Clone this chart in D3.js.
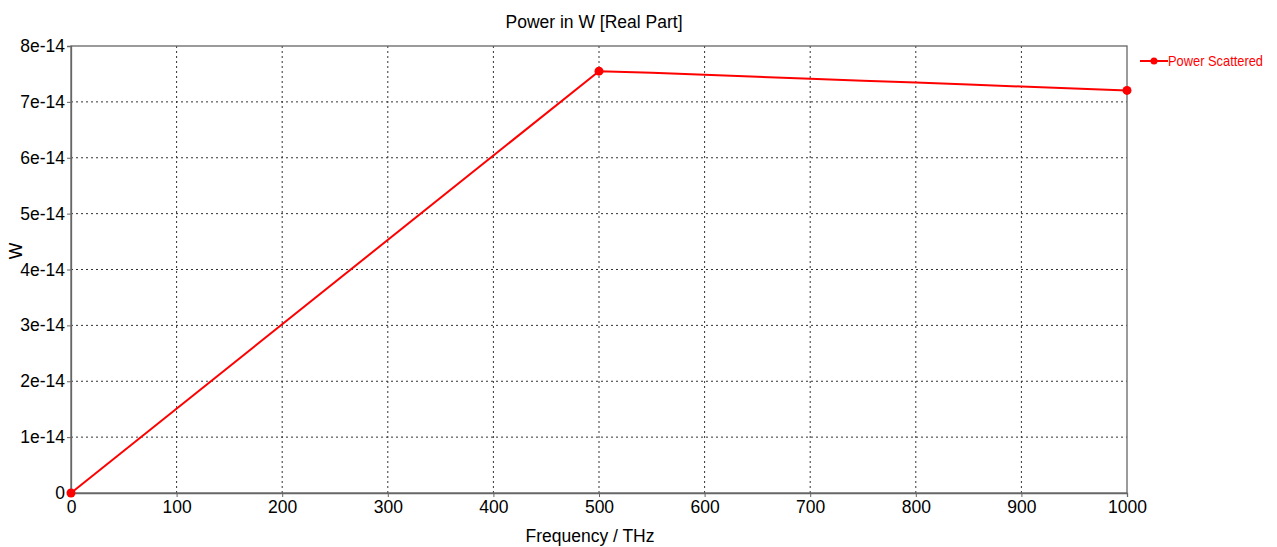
<!DOCTYPE html>
<html>
<head>
<meta charset="utf-8">
<script src="https://cdn.jsdelivr.net/npm/d3@7"></script>
<style>
  body { margin: 0; background: #fff; }
  text { font-family: "Liberation Sans", Arial, sans-serif; }
</style>
</head>
<body>
<div id="chart"></div>
<script>
(function () {

    // Veriler (frekans THz, güç W)
    const freq = [0, 500, 550, 600, 650, 700, 750, 800, 850, 900, 950, 1000];
    const power = [0, 7.55e-14, 7.52e-14, 7.485e-14, 7.45e-14, 7.415e-14, 7.38e-14,
        7.345e-14, 7.31e-14, 7.275e-14, 7.24e-14, 7.205e-14];
    const markerIdx = [0, 1, 11];
    const xTicks = [0, 100, 200, 300, 400, 500, 600, 700, 800, 900, 1000];
    const yTicks = [0, 1e-14, 2e-14, 3e-14, 4e-14, 5e-14, 6e-14, 7e-14, 8e-14];
    const yTickLabels = ["0", "1e-14", "2e-14", "3e-14", "4e-14", "5e-14", "6e-14", "7e-14", "8e-14"];
    const seriesName = "Power Scattered";

    const W = 1277, H = 547;
    const left = 71, top = 46, right = 1127, bottom = 493;
    const fs = "17.5px";

    const svg = d3.select('#chart')
        .append('svg')
        .attr('width', W)
        .attr('height', H);

    const x = d3.scaleLinear().domain([0, 1000]).range([left, right]);
    const y = d3.scaleLinear().domain([0, 8e-14]).range([bottom, top]);

    // Izgara çizgileri
    svg.append("g").selectAll("line")
        .data(xTicks.slice(1, -1))
        .join("line")
        .attr("x1", d => x(d)).attr("x2", d => x(d))
        .attr("y1", top).attr("y2", bottom)
        .attr("stroke", "#333")
        .attr("stroke-width", 1)
        .attr("stroke-dasharray", "2,3");

    svg.append("g").selectAll("line")
        .data(yTicks.slice(1, -1))
        .join("line")
        .attr("x1", left).attr("x2", right)
        .attr("y1", d => y(d)).attr("y2", d => y(d))
        .attr("stroke", "#333")
        .attr("stroke-width", 1)
        .attr("stroke-dasharray", "2,3");

    // Çerçeve
    svg.append("rect")
        .attr("x", left).attr("y", top)
        .attr("width", right - left).attr("height", bottom - top)
        .attr("fill", "none")
        .attr("stroke", "#666")
        .attr("stroke-width", 1.3);

    // Eksenler
    const xAxis = svg.append("g")
        .attr("transform", `translate(0,${bottom})`)
        .call(d3.axisBottom(x).tickValues(xTicks).tickSize(4).tickPadding(4).tickFormat(d3.format("d")));
    const yAxis = svg.append("g")
        .attr("transform", `translate(${left},0)`)
        .call(d3.axisLeft(y).tickValues(yTicks).tickSize(4).tickPadding(2)
            .tickFormat((d, i) => yTickLabels[i]));

    [xAxis, yAxis].forEach(a => {
        a.select(".domain").attr("stroke", "#666").attr("stroke-width", 1.3);
        a.selectAll(".tick line").attr("stroke", "#666");
        a.selectAll("text")
            .attr("fill", "#000")
            .style("font-size", fs)
            .style("font-family", "'Liberation Sans', Arial, sans-serif");
    });

    // Başlık ve eksen adları
    svg.append("text")
        .attr("x", 594).attr("y", 28)
        .attr("text-anchor", "middle")
        .style("font-size", fs)
        .text("Power in W [Real Part]");

    svg.append("text")
        .attr("x", 590).attr("y", 542)
        .attr("text-anchor", "middle")
        .style("font-size", fs)
        .text("Frequency / THz");

    svg.append("text")
        .attr("transform", "translate(22,251) rotate(-90)")
        .attr("text-anchor", "middle")
        .style("font-size", fs)
        .text("W");

    // Veri çizgisi
    const data = freq.map((f, i) => ({ f: f, p: power[i] }));
    svg.append("path")
        .datum(data)
        .attr("fill", "none")
        .attr("stroke", "#ff0000")
        .attr("stroke-width", 2)
        .attr("d", d3.line().x(d => x(d.f)).y(d => y(d.p)));

    svg.append("g").selectAll("circle")
        .data(markerIdx.map(i => data[i]))
        .join("circle")
        .attr("cx", d => x(d.f))
        .attr("cy", d => y(d.p))
        .attr("r", 4.5)
        .attr("fill", "#ff0000");

    // Gösterge
    svg.append("line")
        .attr("x1", 1140).attr("x2", 1168)
        .attr("y1", 61).attr("y2", 61)
        .attr("stroke", "#ff0000")
        .attr("stroke-width", 2);
    svg.append("circle")
        .attr("cx", 1154).attr("cy", 61).attr("r", 3.5)
        .attr("fill", "#ff0000");
    svg.append("text")
        .attr("x", 1168).attr("y", 66)
        .attr("fill", "#ff0000")
        .attr("textLength", 95)
        .attr("lengthAdjust", "spacingAndGlyphs")
        .style("font-size", "15px")
        .text(seriesName);
})();
</script>
</body>
</html>
